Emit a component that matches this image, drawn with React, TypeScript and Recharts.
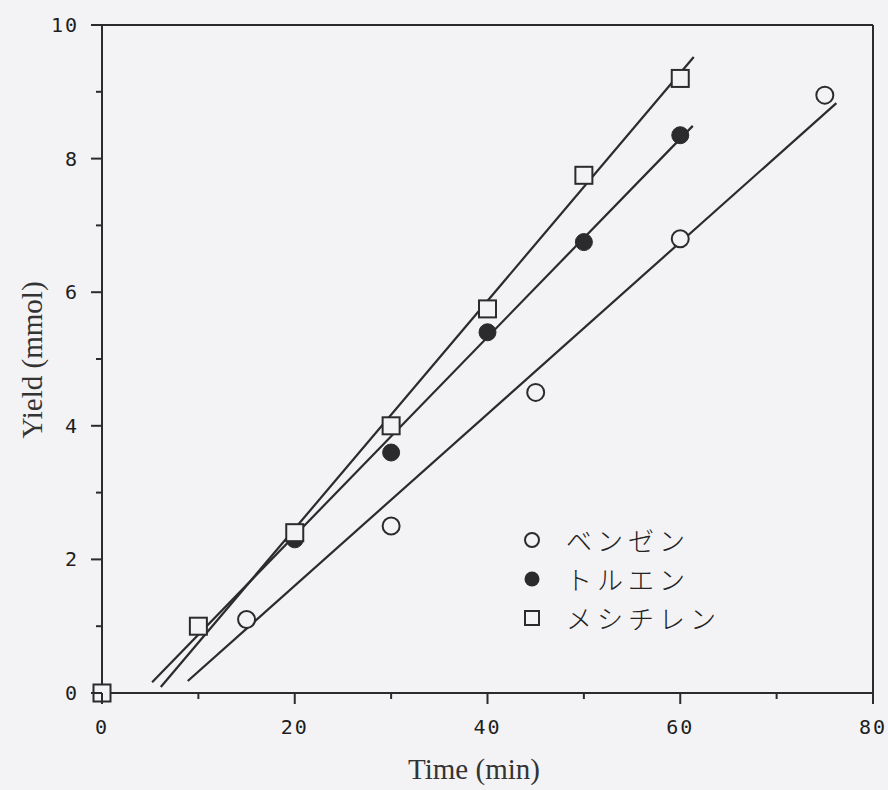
import React from "react";
import { ComposedChart, Line, Scatter, XAxis, YAxis, ReferenceLine } from "recharts";

// measured points (time in min, yield in mmol)
const benzeneTime = [15, 30, 45, 60, 75];
const benzeneYield = [1.1, 2.5, 4.5, 6.8, 8.95];
const tolueneTime = [20, 30, 40, 50, 60];
const tolueneYield = [2.3, 3.6, 5.4, 6.75, 8.35];
const mesityleneTime = [0, 10, 20, 30, 40, 50, 60];
const mesityleneYield = [0, 1.0, 2.4, 4.0, 5.75, 7.75, 9.2];

// straight fit lines, start and end points
const benzeneFit = [
  { x: 8.9, y: 0.18 },
  { x: 76.2, y: 8.83 },
];
const tolueneFit = [
  { x: 5.2, y: 0.16 },
  { x: 61.3, y: 8.49 },
];
const mesityleneFit = [
  { x: 6.1, y: 0.09 },
  { x: 61.4, y: 9.52 },
];

const xTicks = [0, 10, 20, 30, 40, 50, 60, 70, 80];
const yTicks = [0, 1, 2, 3, 4, 5, 6, 7, 8, 9, 10];

const seriesNames = ["ベンゼン", "トルエン", "メシチレン"];

const INK = "#2b2b2e";
const BG = "#f3f3f6";

const pts = (xs: number[], ys: number[]) => xs.map((x, i) => ({ x, y: ys[i] }));

const OpenCircle = (p: any) => (
  <circle cx={p.cx} cy={p.cy} r={8.5} fill={BG} stroke={INK} strokeWidth={2} />
);
const FilledCircle = (p: any) => <circle cx={p.cx} cy={p.cy} r={8.5} fill={INK} stroke={INK} strokeWidth={1} />;
const OpenSquare = (p: any) => (
  <rect x={p.cx - 8.5} y={p.cy - 8.5} width={17} height={17} fill={BG} stroke={INK} strokeWidth={2} />
);

const XTick = (p: any) => {
  const v = p.payload.value;
  const major = v % 20 === 0;
  return (
    <g>
      <line x1={p.x} x2={p.x} y1={p.y} y2={p.y + (major ? 11 : 6)} stroke={INK} strokeWidth={2} />
      {major && (
        <text x={p.x} y={p.y + 41} textAnchor="middle" fontFamily="DejaVu Sans Mono" fontSize={20} letterSpacing={2} fill="#1e1e1e">
          {v}
        </text>
      )}
    </g>
  );
};

const YTick = (p: any) => {
  const v = p.payload.value;
  const major = v % 2 === 0;
  return (
    <g>
      <line x1={p.x} x2={p.x - (major ? 11 : 6)} y1={p.y} y2={p.y} stroke={INK} strokeWidth={2} />
      {major && (
        <text x={p.x - 23} y={p.y + 7} textAnchor="end" fontFamily="DejaVu Sans Mono" fontSize={20} letterSpacing={2} fill="#1e1e1e">
          {v}
        </text>
      )}
    </g>
  );
};

const LegendBox = () => {
  const markers = [
    <circle cx={12} cy={12} r={7} fill="none" stroke={INK} strokeWidth={2} />,
    <circle cx={12} cy={12} r={7.5} fill={INK} />,
    <rect x={5} y={5} width={14} height={14} fill="none" stroke={INK} strokeWidth={2} />,
  ];
  return (
    <div style={{ position: "absolute", left: 520, top: 527, display: "flex", flexDirection: "column", gap: 14 }}>
      {seriesNames.map((n, i) => (
        <div key={n} style={{ display: "flex", alignItems: "center", height: 25 }}>
          <svg width={24} height={24}>{markers[i]}</svg>
          <span
            style={{
              marginLeft: 22,
              fontFamily: "'Noto Sans CJK JP'",
              fontSize: 26,
              letterSpacing: 5,
              color: "#222",
              fontWeight: 300,
              whiteSpace: "nowrap",
            }}
          >
            {n}
          </span>
        </div>
      ))}
    </div>
  );
};

export default function App() {
  return (
    <div style={{ position: "absolute", left: 0, top: 0, width: 888, height: 790, background: BG }}>
      <ComposedChart width={888} height={790} margin={{ top: 25, right: 15, bottom: 0, left: 0 }}>
        <XAxis
          type="number"
          dataKey="x"
          domain={[0, 80]}
          ticks={xTicks}
          height={97}
          tickSize={0}
          tickMargin={0}
          tickLine={false}
          axisLine={{ stroke: INK, strokeWidth: 2 }}
          tick={XTick}
          interval={0}
        />
        <YAxis
          type="number"
          dataKey="y"
          domain={[0, 10]}
          ticks={yTicks}
          width={102}
          tickSize={0}
          tickMargin={0}
          tickLine={false}
          axisLine={{ stroke: INK, strokeWidth: 2 }}
          tick={YTick}
          interval={0}
        />
        <ReferenceLine y={10} stroke={INK} strokeWidth={2} />
        <ReferenceLine x={80} stroke={INK} strokeWidth={2} />
        <Line data={benzeneFit} dataKey="y" stroke={INK} strokeWidth={2.2} dot={false} isAnimationActive={false} />
        <Line data={tolueneFit} dataKey="y" stroke={INK} strokeWidth={2.2} dot={false} isAnimationActive={false} />
        <Line data={mesityleneFit} dataKey="y" stroke={INK} strokeWidth={2.2} dot={false} isAnimationActive={false} />
        <Scatter name={seriesNames[0]} data={pts(benzeneTime, benzeneYield)} shape={OpenCircle} isAnimationActive={false} />
        <Scatter name={seriesNames[1]} data={pts(tolueneTime, tolueneYield)} shape={FilledCircle} isAnimationActive={false} />
        <Scatter name={seriesNames[2]} data={pts(mesityleneTime, mesityleneYield)} shape={OpenSquare} isAnimationActive={false} />
        <text x={474} y={779} textAnchor="middle" fontFamily="'Liberation Serif'" fontSize={29} fill="#333">
          Time (min)
        </text>
        <text
          x={42}
          y={360}
          textAnchor="middle"
          fontFamily="'Liberation Serif'"
          fontSize={29}
          fill="#333"
          transform="rotate(-90 42 360)"
        >
          Yield (mmol)
        </text>
      </ComposedChart>
      <LegendBox />
    </div>
  );
}
